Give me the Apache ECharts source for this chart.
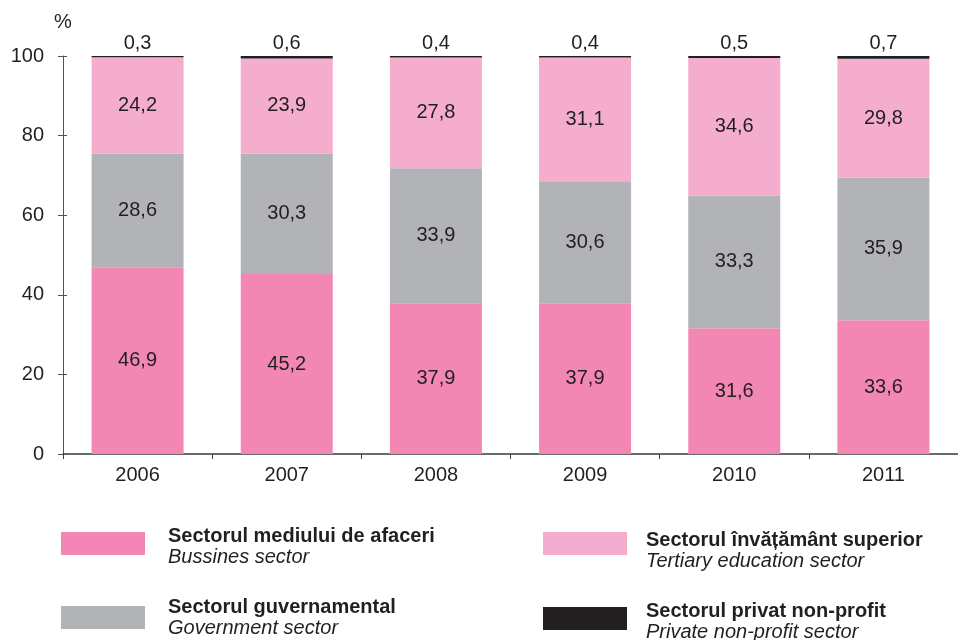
<!DOCTYPE html>
<html>
<head>
<meta charset="utf-8">
<script src="https://cdn.jsdelivr.net/npm/echarts@6/dist/echarts.min.js"></script>
<style>
  html, body { margin: 0; padding: 0; background: #fff; }
  #chart { width: 958px; height: 640px; }
</style>
</head>
<body>
<div id="chart"></div>
<script>
const years = ['2006', '2007', '2008', '2009', '2010', '2011'];
const business = [46.9, 45.2, 37.9, 37.9, 31.6, 33.6];
const government = [28.6, 30.3, 33.9, 30.6, 33.3, 35.9];
const tertiary = [24.2, 23.9, 27.8, 31.1, 34.6, 29.8];
const privateNp = [0.3, 0.6, 0.4, 0.4, 0.5, 0.7];
const yTicks = [0, 20, 40, 60, 80, 100];

const names = ['Sectorul mediului de afaceri', 'Sectorul guvernamental',
  'Sectorul învățământ superior', 'Sectorul privat non-profit'];
const english = {
  'Sectorul mediului de afaceri': 'Bussines sector',
  'Sectorul guvernamental': 'Government sector',
  'Sectorul învățământ superior': 'Tertiary education sector',
  'Sectorul privat non-profit': 'Private non-profit sector'
};
const colors = ['#f287b3', '#b1b3b6', '#f4adcd', '#231f20'];

const FONT = '"Liberation Sans", Arial, sans-serif';
const INK = '#231f20';
const FS = 20;

const comma = v => String(v).replace('.', ',');

let chart = echarts.init(document.getElementById('chart'), null, { renderer: 'canvas' });

// one legend per entry so they can sit in a 2x2 block like the print version
function legendFor(name, left, top, padTop, padLeft) {
  return {
    data: [name],
    left: left,
    top: top,
    padding: 0,
    orient: 'vertical',
    icon: 'rect',
    itemWidth: 84,
    itemHeight: 23,
    selectedMode: false,
    formatter: n => `{b|${n}}\n{i|${english[n]}}`,
    textStyle: {
      padding: [padTop, 0, 0, padLeft],
      rich: {
        b: { fontFamily: FONT, fontSize: FS, fontWeight: 'bold', color: INK, lineHeight: 21 },
        i: { fontFamily: FONT, fontSize: FS, fontStyle: 'italic', color: INK, lineHeight: 21 }
      }
    }
  };
}

function barSeries(name, data, idx, pos) {
  return {
    name: name,
    type: 'bar',
    stack: 'total',
    barWidth: 92,
    data: data,
    itemStyle: { color: colors[idx] },
    label: {
      show: true,
      position: pos,
      distance: 3,
      fontFamily: FONT,
      fontSize: FS,
      color: INK,
      formatter: p => comma(p.value)
    }
  };
}

chart.setOption({
  animation: false,
  backgroundColor: '#fff',
  grid: { left: 63, right: -5, top: 56, bottom: 186 },
  legend: [
    legendFor(names[0], 61, 526, 6, 18),
    legendFor(names[1], 61, 597, 0, 18),
    legendFor(names[2], 543, 530, 14, 14),
    legendFor(names[3], 543, 601, 6, 14)
  ],
  xAxis: {
    type: 'category',
    data: years,
    axisLine: { lineStyle: { color: '#3a3a3a', width: 1.5 } },
    axisTick: { show: true, length: 5, alignWithLabel: false, lineStyle: { color: '#3a3a3a' } },
    axisLabel: { fontFamily: FONT, fontSize: FS, color: INK, margin: 11 }
  },
  yAxis: [{
    type: 'value',
    min: yTicks[0],
    max: yTicks[yTicks.length - 1],
    interval: 20,
    name: '%',
    nameLocation: 'end',
    nameGap: 24,
    nameTextStyle: { fontFamily: FONT, fontSize: FS, color: INK, align: 'center' },
    splitLine: { show: false },
    axisLine: { show: true, lineStyle: { color: '#555', width: 1 } },
    axisTick: { show: true, length: 5, lineStyle: { color: '#555' } },
    axisLabel: { fontFamily: FONT, fontSize: FS, color: INK, margin: 19 }
  }, {
    type: 'value',
    position: 'left',
    min: yTicks[0],
    max: yTicks[yTicks.length - 1],
    interval: 20,
    splitLine: { show: false },
    axisLine: { show: false },
    axisTick: { show: true, inside: true, length: 4, lineStyle: { color: '#555' } },
    axisLabel: { show: false }
  }],
  series: [
    barSeries(names[0], business, 0, 'inside'),
    barSeries(names[1], government, 1, 'inside'),
    barSeries(names[2], tertiary, 2, 'inside'),
    barSeries(names[3], privateNp, 3, 'top')
  ]
});
</script>
</body>
</html>
